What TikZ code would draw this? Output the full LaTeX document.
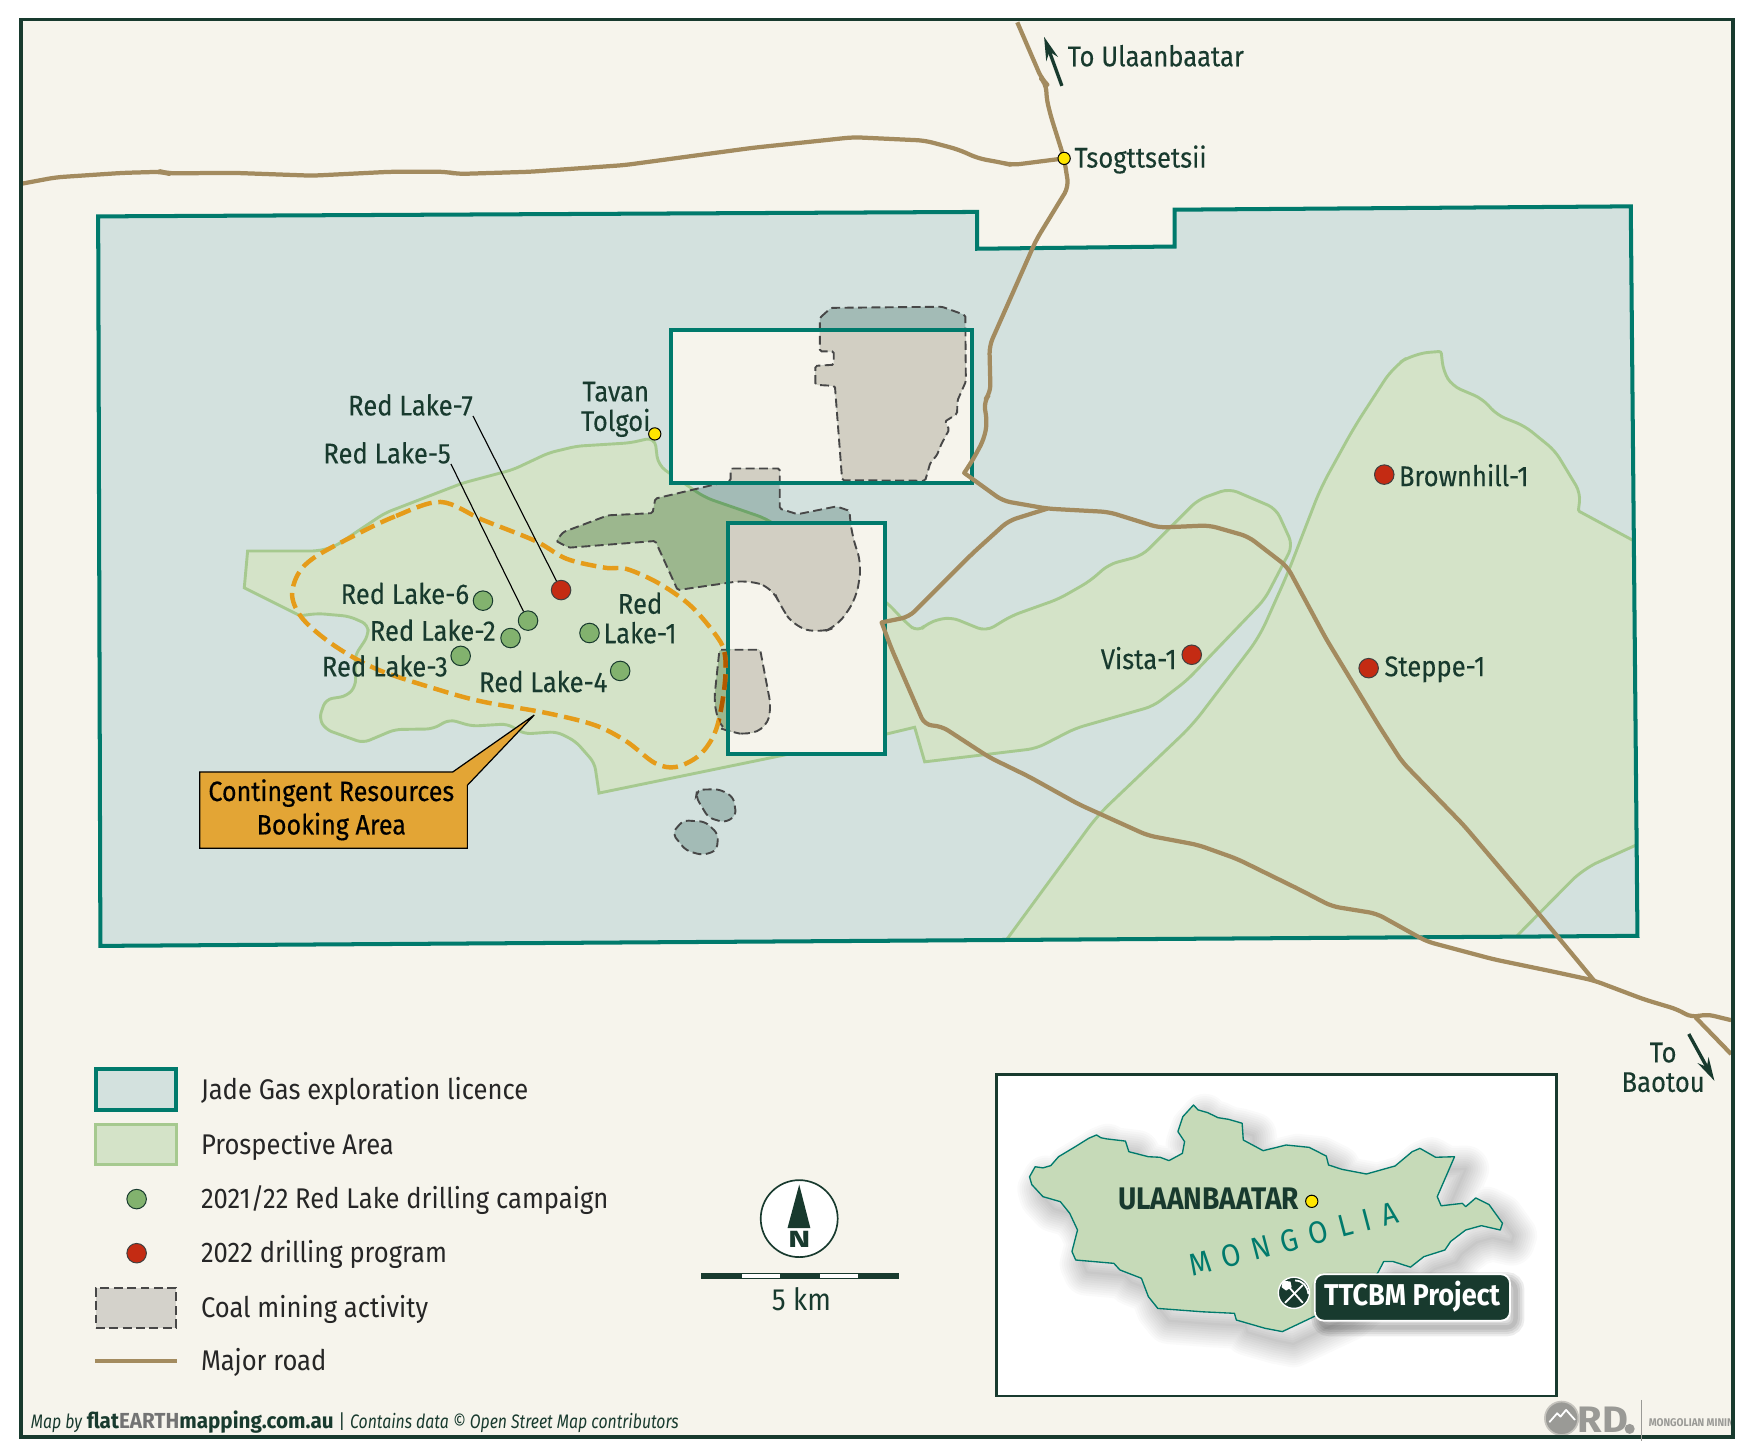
\documentclass[tikz,border=0pt]{standalone}
\usepackage{fontspec}
\setmainfont[FakeStretch=0.9]{Fira Sans}
\usepackage{tikz}
\usetikzlibrary{arrows.meta}
\definecolor{cream}{HTML}{F6F4EC}
\definecolor{licfill}{HTML}{D3E1DE}
\definecolor{licedge}{HTML}{007A6C}
\definecolor{prosfill}{HTML}{D4E3C8}
\definecolor{prosedge}{HTML}{A6C98F}
\definecolor{deepgreen}{HTML}{183A2E}
\definecolor{roadbrown}{HTML}{A38B5F}
\definecolor{dashorange}{HTML}{E59C1A}
\definecolor{calloutorange}{HTML}{E3A535}
\definecolor{coalcream}{HTML}{D2CFC3}
\definecolor{coalblue}{HTML}{A3BBB6}
\definecolor{coalgreen}{HTML}{9CB78E}
\definecolor{coalseam}{HTML}{6FA56A}
\definecolor{logogrey}{HTML}{9A9A96}
\definecolor{sitegreen}{HTML}{82B26E}
\definecolor{sitered}{HTML}{C42B13}
\definecolor{townyellow}{HTML}{FFE600}
\definecolor{mongoliafill}{HTML}{C6DAB8}
\tikzstyle{maplabel}=[inner sep=0pt, text=deepgreen, align=center, font=\fontsize{25.5}{26.5}\selectfont\addfontfeature{FakeBold=0.2}]
\tikzstyle{legendlabel}=[inner sep=0pt, anchor=base west, text=black!85, font=\fontsize{25.5}{27}\selectfont]
\tikzstyle{dot}=[draw, circle, inner sep=0pt, minimum size=17.5pt, line width=0.9pt]
\tikzstyle{greendot}=[dot, fill=sitegreen, draw=deepgreen]
\tikzstyle{reddot}=[dot, fill=sitered, draw=black!75]
\tikzstyle{towndot}=[draw=black, circle, inner sep=0pt, minimum size=11pt, line width=0.9pt, fill=townyellow]
\tikzstyle{road}=[draw=roadbrown, line width=3.8pt, rounded corners=7pt, line join=round]
\tikzstyle{licline}=[draw=licedge, line width=3.6pt]
\tikzstyle{prosline}=[draw=prosedge, line width=2.6pt]
\tikzstyle{coalline}=[draw=black!72, line width=1.7pt, dash pattern=on 8pt off 4pt]
\tikzstyle{bookline}=[draw=dashorange, line width=4pt, dash pattern=on 14pt off 6pt]
\tikzstyle{leader}=[draw=black, line width=1pt]
\tikzstyle{dirarrow}=[-{Stealth[length=21pt,width=11pt]}, draw=deepgreen, line width=3pt]
\tikzstyle{swatch}=[inner sep=0pt, minimum width=72pt, minimum height=36pt]
\newcommand{\licarea}{(88,194) -- (876,190) -- (876,223) -- (1053,221) -- (1053,188) -- (1462,185) -- (1468,839) -- (90,848) -- cycle}
\newcommand{\westarea}{[rounded corners=6pt] (587,392) -- (565,397) -- (517,400) -- (492,406) -- (460,421) -- (415,433) -- (345,460) -- (300,490) -- (285,494) [sharp corners] -- (222,494) -- (219,527) -- (269,552) [rounded corners=6pt] -- (285,550) -- (313,552.5) -- (330,560) -- (330,570) -- (318,588) -- (319,615) -- (311,624) -- (292,627) -- (286,644) -- (292,654) -- (325.5,666) -- (354,654) -- (388,653.5) -- (403,645) -- (423,651) -- (455,649) -- (470,658) -- (499,656) -- (516,664.6) -- (533,684) [sharp corners] -- (537,711) -- (795,658) -- (820,652) -- (829,683) [rounded corners=8pt] -- (929,671) -- (964,653) -- (1034,633) -- (1064,610) -- (1134,537) -- (1159,489) -- (1144,456) -- (1102,438) -- (1074,448) -- (1049,473) -- (1024,498) -- (994,506) -- (977,521) -- (949,537) -- (907,552) -- (884,566) -- (852,553) -- (832,558) -- (823,567) -- (812,558) -- (795,540) -- (687,465) -- (632,446) -- (607,429) -- (590,417) -- cycle}
\newcommand{\eastfirst}{[rounded corners=14pt] (902,843) -- (984,731) -- (1069,650) -- (1129,571) -- (1154,515) -- (1184,437.5) -- (1214,383) -- (1249,329) -- (1267,317) [rounded corners=2pt] -- (1292,315) [rounded corners=8pt] -- (1294,333) -- (1302,346) -- (1329,357.5) -- (1342,372) -- (1367,382) -- (1394,404) -- (1417,442) [rounded corners=1pt] -- (1415,458) -- (1465,485)}
\newcommand{\eastsecond}{(1467,757.5) -- (1419.4,779) -- (1359,840)}
\newcommand{\northbox}{(601.5,295.5) rectangle (871,433)}
\newcommand{\southbox}{(653,469) rectangle (793,676)}
\newcommand{\coalarea}{[rounded corners=1.5pt] (735,285) -- (745,276) -- (844.4,275) -- (865.4,282.5) -- (865.9,342) -- (858.4,359) -- (858,371) -- (847,378) -- (851,385) -- (844,398) -- (840,408) -- (834,415) -- (829.4,431) -- (755,430.5) -- (748.5,346) -- (731,345) -- (731,328) -- (747.5,327) -- (747.5,315) -- (735,315) -- cycle
 (655,420) -- (699,420) -- (699,456) -- (715,461) -- (750,454) -- (761.5,458) [rounded corners=12pt] -- (763.5,479) -- (772.5,506) -- (767.5,537) -- (750,562) -- (735,567.5) -- (712.5,562) -- (700,544) -- (692.5,527) -- (670,520) [rounded corners=1.5pt] -- (607.5,529) -- (587.5,485) -- (510,491) -- (498.5,485) -- (505,477) -- (545,462) -- (585,460) -- (587.5,447) -- (655,431) -- cycle
 [rounded corners=1.5pt] (645,582.5) -- (681.5,582.5) [rounded corners=9pt] -- (691.5,635) -- (687,652) -- (670,659) -- (655,656) -- (646,653) -- (640,630) [rounded corners=1.5pt] -- cycle
 [rounded corners=5pt] (625,708) -- (645,707.5) -- (657.5,714.6) -- (660,731) -- (650,737.5) -- (635,733) -- (624,714.6) -- cycle
 (602.5,747) -- (612.5,735.4) -- (632.5,736.7) -- (644,748) -- (642.5,762.5) -- (630,766.7) -- (615,762.5) -- cycle}
\newcommand{\bookarea}{plot[smooth cycle, tension=0.55] coordinates {(395,450) (354,463) (316,481) (281.5,500) (267,515) (262,535) (272,555.5) (300,579) (338,600) (392,618) (432.5,629) (489,639) (533,650) (561.5,664.6) (587,684) (606,687.6) (627.6,676.5) (642,654) (649.6,615) (649.6,585) (640,567) (618,542) (590,522.6) (561.5,510) (542.6,509) (508,501) (480,485) (432.5,466)}}
\newcommand{\mongolia}{(923,1055) -- (928,1046) -- (935,1047) -- (942,1045) -- (949,1037) -- (964,1028) -- (976,1020.5) -- (983,1017.5) -- (987,1020) -- (992,1021) -- (1009,1023) -- (1012,1032.5) -- (1029.5,1037) -- (1040,1037.5) -- (1048,1040.5) -- (1060,1034) -- (1062,1023.5) -- (1056,1014.5) -- (1060.5,1001) -- (1070,990.6) -- (1074,995) -- (1082.7,997.5) -- (1092,1002) -- (1101.5,1003.5) -- (1113.6,1007) -- (1114.6,1022) -- (1132.4,1031.6) -- (1153,1026.5) -- (1173.6,1028.6) -- (1189,1036.4) -- (1191,1044.4) -- (1203,1048.3) -- (1225,1052.5) -- (1250.7,1045.3) -- (1266,1032.5) -- (1273,1029.5) -- (1287,1037.5) -- (1304,1037) -- (1288.5,1072.8) -- (1292,1081) -- (1311,1078.8) -- (1314,1081.8) -- (1323,1074) -- (1335,1080) -- (1347,1096.7) -- (1345,1102.7) -- (1328,1098.8) -- (1314,1102.7) -- (1300.5,1113) -- (1295.4,1120.6) -- (1276.5,1126.6) -- (1264.5,1136) -- (1249,1131) -- (1240.5,1131) -- (1235,1141.5) -- (1200,1170) -- (1178.7,1180) -- (1149.6,1193.8) -- (1134,1190.8) -- (1108.4,1183.4) -- (1106.7,1177.4) -- (1077.5,1176) -- (1038,1173) -- (1029.5,1162.4) -- (1023.3,1146) -- (1004,1138.5) -- (998.6,1132.6) -- (964.4,1129.6) -- (961,1122) -- (966,1102.7) -- (959,1087.7) -- (950.6,1077.3) -- (935,1072.8) -- (925,1062) -- cycle}
\newcommand{\ttcbmbox}{[rounded corners=8pt] (1178.7,1142.4) rectangle (1353.7,1184)}

\begin{document}
\begin{tikzpicture}[x=1pt, y=-1pt]
        \useasboundingbox (0,0) rectangle (1568,1303);
        \fill[white] (0,0) rectangle (1568,1303);
        \fill[cream] (18.5,17.5) rectangle (1554,1288);
        \fill[licfill] \licarea;
        \fill[prosfill] \westarea;
        \fill[prosfill] \eastfirst -- (1467,757.5) -- (1419.4,779) -- (1359,840) -- cycle;
        \draw[prosline] \westarea;
        \draw[prosline] \eastfirst;
        \draw[prosline, rounded corners=14pt] \eastsecond;
        \fill[cream] \northbox;
        \fill[cream] \southbox;
        \begin{scope}
            \clip \coalarea;
            \fill[coalblue] (0,0) rectangle (1568,1303);
            \fill[coalgreen] \westarea;
            \draw[draw=coalseam, line width=2.6pt] \westarea;
            \fill[coalcream] \northbox;
            \fill[coalcream] \southbox;
        \end{scope}
        \draw[coalline] \coalarea;
        \draw[licline] \licarea;
        \draw[licline] \northbox;
        \draw[licline] \southbox;
        \draw[bookline] \bookarea;
        \begin{scope}
            \clip (640,575) rectangle (653,660);
            \clip \coalarea;
            \draw[bookline, draw=orange!70!black] \bookarea;
        \end{scope}
        \draw[road] (20,164.6) -- (50,159) -- (110,155) -- (145,154) -- (150,155.4) -- (210,155) -- (280,157.5) -- (350,154) -- (400,154) -- (410,156) -- (475,154) -- (560,148) -- (675,132.5) -- (765,123) -- (829,126) -- (859,134) -- (877,142) -- (899,146) -- (907,148) -- (954,142);
        \draw[road] (912,20) -- (934,71) -- (938,75) -- (938,87.5) -- (942,104) -- (954,142) -- (958,167.5) -- (929,215) -- (887,310) -- (888,352) -- (882,360) -- (885,379) -- (882,394) -- (872,412.5) [sharp corners] -- (864.4,424) [rounded corners=7pt] -- (899,449) -- (939,456) -- (994,459) -- (1039,473) -- (1084,471) -- (1119,481) -- (1154,508) -- (1189,573) -- (1237,652) -- (1257,683) -- (1312,739.6) -- (1374,812.5) -- (1429,879);
        \draw[road] (939,456) -- (904,467) -- (872,496) -- (815,553) [sharp corners] -- (790.4,558) [rounded corners=7pt] -- (799,581) -- (829,650) -- (844,651) -- (887,679) -- (922,696) -- (967,721) -- (1029,749) -- (1074,757.5) -- (1109,770) -- (1164,797) -- (1194,812.5) -- (1234,819) -- (1279,844) -- (1339,860) -- (1392,871) -- (1429,879) -- (1474,896) -- (1504,905) -- (1517,912.5) -- (1529,909) -- (1552,914.6);
        \draw[road] (1520,912) -- (1552,945);
        \node[towndot] (Tsogt) at (954,142) {};
        \node[towndot] (Tavan) at (587,389) {};
        \node[maplabel, anchor=west] (TsogtT) at (963,143) {Tsogttsetsii};
        \node[maplabel] (TavanT) at (552,367) {Tavan\\Tolgoi};
        \node[maplabel, anchor=west] (UlaanT) at (957,50) {To Ulaanbaatar};
        \node[maplabel] (BaotouT) at (1491,957) {To\\Baotou};
        \coordinate (UlaanA) at (952,77);
        \coordinate (UlaanB) at (936,33);
        \coordinate (BaotouA) at (1514,927);
        \coordinate (BaotouB) at (1537,969);
        \draw[dirarrow] (UlaanA) -- (UlaanB);
        \draw[dirarrow] (BaotouA) -- (BaotouB);
        \node[greendot] (RL1) at (528.5,567.5) {};
        \node[greendot] (RL2) at (457.7,572) {};
        \node[greendot] (RL3) at (413,588) {};
        \node[greendot] (RL4) at (556,601.5) {};
        \node[greendot] (RL5) at (473.4,556.4) {};
        \node[greendot] (RL6) at (433,538.5) {};
        \node[reddot] (RL7) at (503,529) {};
        \node[reddot] (Brownhill) at (1241,425.5) {};
        \node[reddot] (Steppe) at (1227,599) {};
        \node[reddot] (Vista) at (1068.4,587) {};
        \node[maplabel, anchor=west] (RL1T) at (541,554) {Red\\Lake-1};
        \node[maplabel] (RL2T) at (388,565) {Red Lake-2};
        \node[maplabel] (RL3T) at (345,597) {Red Lake-3};
        \node[maplabel] (RL4T) at (487,611) {Red Lake-4};
        \node[maplabel] (RL5T) at (347,406) {Red Lake-5};
        \node[maplabel] (RL6T) at (363,532) {Red Lake-6};
        \node[maplabel] (RL7T) at (368,363) {Red Lake-7};
        \node[maplabel, anchor=west] (BrownhillT) at (1254,426) {Brownhill-1};
        \node[maplabel, anchor=west] (SteppeT) at (1241,600) {Steppe-1};
        \node[maplabel, anchor=east] (VistaT) at (1055,590) {Vista-1};
        \draw[leader] (RL7T.south east) -- (RL7);
        \draw[leader] (RL5T.south east) -- (RL5);
        \draw[draw=black, fill=calloutorange, line width=1.1pt] (179,692) -- (406,692) -- (479,641) -- (419,704) -- (419,760.5) -- (179,760.5) -- cycle;
        \node[maplabel, text=black, font=\fontsize{25}{30}\selectfont\addfontfeature{FakeBold=0.4}] (BookT) at (297,726) {Contingent Resources\\Booking Area};
        \node[swatch, fill=licfill, draw=licedge, line width=3.6pt, minimum height=37pt] (KeyLic) at (122,977) {};
        \node[swatch, fill=prosfill, draw=prosedge, line width=2.8pt] (KeyPros) at (122,1026) {};
        \node[greendot] (KeyGreen) at (122.5,1075) {};
        \node[reddot] (KeyRed) at (122.5,1123.5) {};
        \node[swatch, fill=black!14!cream, coalline] (KeyCoal) at (122,1172.5) {};
        \coordinate (KeyRoadA) at (85,1220);
        \coordinate (KeyRoadB) at (159,1220);
        \draw[road] (KeyRoadA) -- (KeyRoadB);
        \node[legendlabel] (KeyLicT) at (180,986) {Jade Gas exploration licence};
        \node[legendlabel] (KeyProsT) at (180,1035) {Prospective Area};
        \node[legendlabel] (KeyGreenT) at (180,1083.5) {2021/22 Red Lake drilling campaign};
        \node[legendlabel] (KeyRedT) at (180,1132) {2022 drilling program};
        \node[legendlabel] (KeyCoalT) at (180,1181) {Coal mining activity};
        \node[legendlabel] (KeyRoadT) at (180,1229) {Major road};
        \node[draw=deepgreen, fill=white, circle, inner sep=0pt, minimum size=69pt, line width=1.5pt] (Compass) at (716.5,1092.5) {};
        \fill[deepgreen] (716.5,1062) -- (726.5,1101) -- (706,1101) -- cycle;
        \node[inner sep=0pt, text=deepgreen, xscale=1.6, font=\fontsize{21}{21}\selectfont\bfseries] (CompassN) at (716.5,1111.5) {N};
        \fill[deepgreen] (628.5,1141) rectangle (806,1147);
        \fill[white] (665,1142) rectangle (699,1145.5);
        \fill[white] (735,1142) rectangle (769,1145.5);
        \node[maplabel, font=\fontsize{27.5}{28}\selectfont] (ScaleT) at (718.5,1165) {5 km};
        \draw[draw=deepgreen, fill=white, line width=2.6pt] (893,963) rectangle (1395,1251.5);
        \begin{scope}[xshift=10pt, yshift=-11pt]
            \foreach \w in {42,38,...,2}
                \draw[draw=black, opacity=0.02, line width=\w pt, line join=round] \mongolia;
        \end{scope}
        \draw[draw=licedge, fill=mongoliafill, line width=1.2pt, line join=round] \mongolia;
        \node[maplabel, font=\fontsize{28}{28}\selectfont\bfseries, anchor=east] (UBT) at (1165,1075) {ULAANBAATAR};
        \node[towndot] (UB) at (1176,1077) {};
        \node[inner sep=0pt, text=licedge, rotate=14.6, font=\fontsize{28}{28}\selectfont\addfontfeature{LetterSpace=36}] (MongoliaT) at (1160,1111) {MONGOLIA};
        \begin{scope}[xshift=5pt, yshift=-6pt]
            \foreach \w in {16,12,8,4}
                \draw[draw=black, opacity=0.07, line width=\w pt] \ttcbmbox;
        \end{scope}
        \draw[draw=white, fill=deepgreen, line width=1.6pt] \ttcbmbox;
        \node[inner sep=0pt, text=white, font=\fontsize{27}{27}\selectfont\bfseries] (TTCBMT) at (1266,1162) {TTCBM Project};
        \node[draw=white, fill=deepgreen, circle, inner sep=0pt, minimum size=28pt, line width=1.2pt] (Icon) at (1160,1159) {};
        \draw[draw=white, line width=1.6pt] (1153,1151) -- (1168,1168);
        \draw[draw=white, line width=1.6pt] (1168,1152) -- (1152,1168);
        \fill[white] (1150,1148) -- (1157,1149) -- (1158,1154) -- (1153,1157) -- (1149,1154) -- cycle;
        \draw[draw=white, line width=1.6pt] (1161,1148) .. controls (1168,1148) and (1172,1153) .. (1173,1160);
        \begin{scope}
            \clip (18.5,1240) rectangle (1554,1288);
            \node[inner sep=0pt, anchor=west, text=logogrey, font=\fontsize{10}{10}\selectfont\bfseries] (MiningT) at (1478,1275) {MONGOLIAN MINING};
        \end{scope}
        \draw[draw=cream!80!black, fill=logogrey, line width=1.5pt] (1400,1271.5) circle (15pt);
        \draw[draw=white, line width=1.6pt, line join=round] (1389,1275) -- (1396,1267) -- (1399,1270) -- (1404,1264) -- (1412,1273);
        \node[inner sep=0pt, text=logogrey, xscale=1.2, font=\fontsize{33}{33}\selectfont\bfseries] (RDT) at (1437,1273) {RD};
        \fill[logogrey] (1461,1281) circle (4.5pt);
        \draw[draw=deepgreen, line width=3.5pt] (18.5,17.5) rectangle (1554,1288);
        \draw[draw=logogrey, line width=0.7pt] (1471.5,1255) -- (1471.5,1292);
        \node[inner sep=0pt, anchor=west, text=deepgreen, font=\fontsize{17.5}{18}\selectfont] (CreditT) at (27.5,1274.5) {{\addfontfeature{FakeStretch=0.81}\itshape Map by} {\fontsize{19.5}{18}\selectfont\addfontfeature{FakeStretch=0.95}\bfseries flat\textcolor{black!55}{EARTH}mapping.com.au} | {\addfontfeature{FakeStretch=0.81}\itshape Contains data © Open Street Map contributors}};
    \end{tikzpicture}
\end{document}
